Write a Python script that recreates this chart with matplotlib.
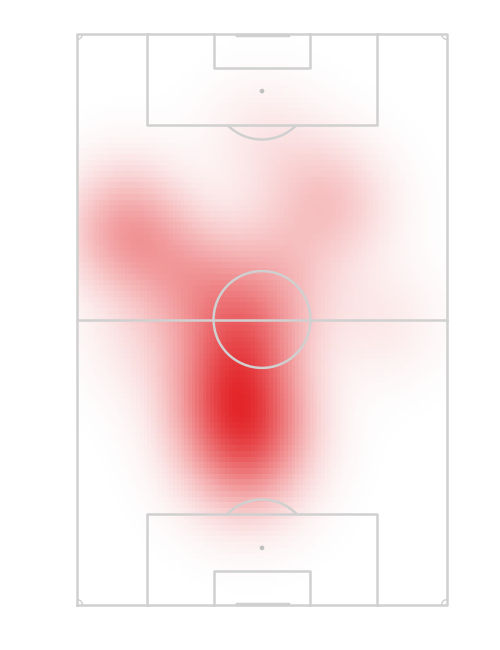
import numpy as np
import matplotlib
matplotlib.use('Agg')
import matplotlib.pyplot as plt
from matplotlib.colors import LinearSegmentedColormap
from matplotlib.patches import Arc, Circle

# Pitch is drawn vertically, 68 wide x 105 long (metres), attack upwards
PITCH_W = 68
PITCH_L = 105

# Estimated touch locations (x across, y along the pitch)
touch_x = [30, 28, 32, 26, 34, 30, 24, 35, 29, 31, 26, 35,
           30, 33, 28, 36, 32, 31, 27,
           22, 18, 25, 20,
           9, 7, 11, 8, 10,
           46, 49, 44,
           36, 40,
           33, 28,
           34, 56, 12]
touch_y = [35, 38, 33, 31, 38, 29, 36, 34, 42, 26, 40, 30,
           46, 49, 51, 53, 56, 44, 48,
           58, 61, 57, 64,
           69, 66, 72, 73, 65,
           74, 72, 78,
           66, 61,
           22, 24,
           86, 52, 48]
bandwidth = 7.3

line_col = '#d0d0d0'
cmap = LinearSegmentedColormap.from_list('heat', ['#ffffff', '#e3262a'])

# Density on a coarse grid
nx, ny = 100, 100
gx = (np.arange(nx) + 0.5) * PITCH_W / nx
gy = (np.arange(ny) + 0.5) * PITCH_L / ny
XX, YY = np.meshgrid(gx, gy)
dens = np.zeros_like(XX)
for tx, ty in zip(touch_x, touch_y):
    dens += np.exp(-((XX - tx) ** 2 + (YY - ty) ** 2) / (2 * bandwidth ** 2))
dens /= dens.max()

fig = plt.figure(figsize=(5, 6.5), dpi=100)
ax = fig.add_axes([77 / 500, 45 / 650, 370 / 500, 571 / 650])
ax.imshow(dens, cmap=cmap, vmin=0, vmax=1, origin='lower',
          extent=(0, PITCH_W, 0, PITCH_L), interpolation='nearest', aspect='auto')

lw = 1.8
kw = dict(color=line_col, lw=lw, clip_on=False, zorder=3)

# outline and halfway line
ax.plot([0, PITCH_W, PITCH_W, 0, 0], [0, 0, PITCH_L, PITCH_L, 0], **kw)
ax.plot([0, PITCH_W], [PITCH_L / 2, PITCH_L / 2], **kw)

# centre circle
r = 8.9
ax.add_patch(Circle((PITCH_W / 2, PITCH_L / 2), r, fill=False, ec=line_col, lw=lw, zorder=3))

# boxes (wyscout style proportions)
box_l, box_r = 0.19 * PITCH_W, 0.81 * PITCH_W
box_d = 0.16 * PITCH_L
six_l, six_r = 0.37 * PITCH_W, 0.63 * PITCH_W
six_d = 0.06 * PITCH_L
goal_l, goal_r = 0.432 * PITCH_W, 0.57 * PITCH_W
spot = 0.10 * PITCH_L

for end, sgn in [(0, 1), (PITCH_L, -1)]:
    ax.plot([box_l, box_l, box_r, box_r], [end, end + sgn * box_d, end + sgn * box_d, end], **kw)
    ax.plot([six_l, six_l, six_r, six_r], [end, end + sgn * six_d, end + sgn * six_d, end], **kw)
    ax.plot([goal_l, goal_r], [end + sgn * 0.25, end + sgn * 0.25], color=line_col, lw=2.5,
            clip_on=False, zorder=3)
    ax.add_patch(Circle((PITCH_W / 2, end + sgn * spot), 0.3, color='#c0c0c0', zorder=3))
    # penalty arc outside the box
    half = np.degrees(np.arccos((box_d - spot) / r))
    mid = 90 if sgn == 1 else 270
    ax.add_patch(Arc((PITCH_W / 2, end + sgn * spot), 2 * r, 2 * r,
                     theta1=mid - half, theta2=mid + half, ec=line_col, lw=lw, zorder=3))

# corner arcs
for cx, cy, t1 in [(0, 0, 0), (PITCH_W, 0, 90), (PITCH_W, PITCH_L, 180), (0, PITCH_L, 270)]:
    ax.add_patch(Arc((cx, cy), 2, 2, theta1=t1, theta2=t1 + 90, ec=line_col, lw=1.0, zorder=3))

ax.set_xlim(0, PITCH_W)
ax.set_ylim(0, PITCH_L)
ax.axis('off')

fig.savefig('out.png', dpi=100, facecolor='white')
